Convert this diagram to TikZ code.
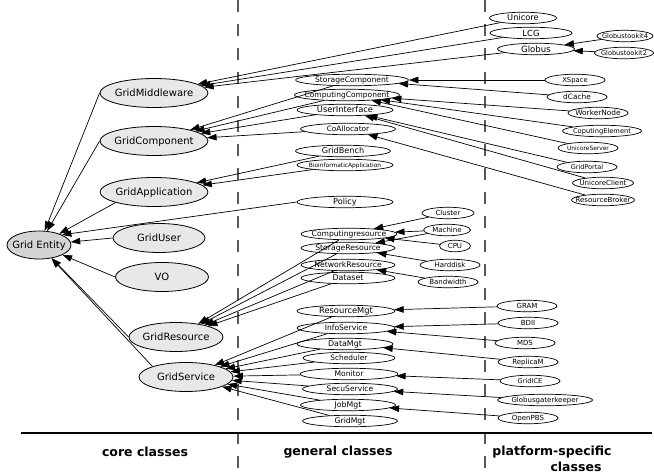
\documentclass[tikz,border=0pt]{standalone}
\usepackage{fontspec}
\setmainfont{DejaVu Sans}
\usetikzlibrary{shapes.geometric,arrows.meta}
\definecolor{corefill}{HTML}{E8E8E8}
\definecolor{rootfill}{HTML}{D4D4D4}
\newcommand\zt[1]{\raisebox{-0.36em}[0pt][0pt]{\makebox[0pt]{#1}}}
\tikzset{
  core/.style={ellipse, draw, fill=corefill, line width=0.8pt, inner sep=0pt,
    font=\fontsize{10}{12}\selectfont, minimum width=#1, minimum height=29pt},
  core/.default=108pt,
  mid/.style={ellipse, draw, fill=white, line width=0.7pt, inner sep=0pt,
    font=\fontsize{7.7}{9}\selectfont, minimum width=#1, minimum height=11.5pt},
  mid/.default=96pt,
  plat/.style={ellipse, draw, fill=white, line width=0.7pt, inner sep=0pt,
    font=\fontsize{7}{8}\selectfont, minimum width=#1, minimum height=11.5pt},
  plat/.default=60pt,
  fs/.style={font=\fontsize{#1}{#1}\selectfont},
  arr/.style={-{Triangle[length=9.5pt,width=6.5pt]}, line width=0.7pt},
  sep/.style={line width=1.2pt, gray!70!black, dash pattern=on 12pt off 12pt},
  lbl/.style={font=\fontsize{12.5}{14}\selectfont\bfseries, inner sep=0pt},
}
\begin{document}
\begin{tikzpicture}[x=1pt,y=-1pt]
\useasboundingbox (0,0) rectangle (654,476);
% separators
\coordinate (s1t) at (238,0); \coordinate (s1b) at (238,476);
\coordinate (s2t) at (485,0); \coordinate (s2b) at (485,476);
\coordinate (hl) at (21,433); \coordinate (hr) at (652,433);
\draw[sep] (s1t) -- (s1b);
\draw[sep] (s2t) -- (s2b);
\draw[line width=1.3pt] (hl) -- (hr);
% core
\node[core=64pt, fill=rootfill, minimum height=28pt] (ge) at (39,245) {\zt{Grid Entity}};
\node[core] (gm) at (154,93) {\zt{GridMiddleware}};
\node[core] (gc) at (154,141) {\zt{GridComponent}};
\node[core] (ga) at (154,192) {\zt{GridApplication}};
\node[core=92pt] (gu) at (159,238) {\zt{GridUser}};
\node[core=93pt] (vo) at (162,277) {\zt{VO}};
\node[core=94pt] (gr) at (176,337) {\zt{GridResource}};
\node[core=94pt] (gs) at (186,377) {\zt{GridService}};
% general
\node[mid=67pt, fs=8.3] (unicore) at (523,18) {\zt{Unicore}};
\node[mid=82pt, fs=8.4] (lcg) at (531,33) {\zt{LCG}};
\node[mid=77pt, fs=8.6] (globus) at (536,49) {\zt{Globus}};
\node[mid=113pt, fs=7.6] (sc) at (352,80) {\zt{StorageComponent}};
\node[mid=105pt, fs=7.5] (cc) at (347,95) {\zt{ComputingComponent}};
\node[mid, fs=8.3] (ui) at (345,110) {\zt{UserInterface}};
\node[mid=95pt, fs=7.4] (coa) at (348,129) {\zt{CoAllocator}};
\node[mid=95pt, fs=8.1] (gb) at (343,151) {\zt{GridBench}};
\node[mid, fs=5.9] (bio) at (345,165) {\zt{BioinformaticApplication}};
\node[mid, fs=8.2] (policy) at (345,202) {\zt{Policy}};
\node[mid, fs=7.6] (cr) at (349,234) {\zt{Computingresource}};
\node[mid=94pt] (sr) at (348,248) {\zt{StorageResource}};
\node[mid=94pt] (nr) at (348,265) {\zt{NetworkResource}};
\node[mid=94pt, fs=7.9] (ds) at (348,278) {\zt{Dataset}};
\node[mid=98pt, fs=8.3] (rm) at (346,311) {\zt{ResourceMgt}};
\node[mid=98pt, fs=7.6] (is) at (346,328) {\zt{InfoService}};
\node[mid, fs=7.9] (dm) at (345,344) {\zt{DataMgt}};
\node[mid=92pt, fs=7.4] (sch) at (349,358) {\zt{Scheduler}};
\node[mid=98pt, fs=7.6] (mon) at (349,374) {\zt{Monitor}};
\node[mid=95pt, fs=7.6] (ss) at (350,389) {\zt{SecuService}};
\node[mid=95pt, fs=7.8] (jm) at (348,405) {\zt{JobMgt}};
\node[mid=95pt] (gmg) at (350,421) {\zt{GridMgt}};
% platform-specific
\node[plat=56pt, fs=6.6] (gt4) at (625,36) {\zt{Globustookit4}};
\node[plat=59pt, fs=6.6] (gt2) at (624,53) {\zt{Globustookit2}};
\node[plat, fs=6.8] (xspace) at (575,80) {\zt{XSpace}};
\node[plat, fs=7.4] (dcache) at (577,97) {\zt{dCache}};
\node[plat, fs=7.4] (wn) at (598,113) {\zt{WorkerNode}};
\node[plat=79pt, fs=6.7] (ce) at (602,131) {\zt{CoputingElement}};
\node[plat, fs=5.9] (us) at (588,148) {\zt{UnicoreServer}};
\node[plat, fs=6.5] (gp) at (587,167) {\zt{GridPortal}};
\node[plat=61pt] (uc) at (603,183) {\zt{UnicoreClient}};
\node[plat=63pt] (rb) at (603,200) {\zt{ResourceBroker}};
\node[plat=52pt] (cluster) at (448,213) {\zt{Cluster}};
\node[plat=47pt] (machine) at (447,230) {\zt{Machine}};
\node[plat=31pt] (cpu) at (455,246) {\zt{CPU}};
\node[plat] (hd) at (450,265) {\zt{Harddisk}};
\node[plat] (bw) at (448,282) {\zt{Bandwidth}};
\node[plat] (gram) at (527,306) {\zt{GRAM}};
\node[plat] (bdii) at (528,323) {\zt{BDII}};
\node[plat] (mds) at (525,343) {\zt{MDS}};
\node[plat] (replica) at (528,362) {\zt{ReplicaM}};
\node[plat, fs=6.6] (gridice) at (530,381) {\zt{GridICE}};
\node[plat=95pt] (ggk) at (545,400) {\zt{Globusgaterkeeper}};
\node[plat] (openpbs) at (528,418) {\zt{OpenPBS}};
% labels
\node[lbl] (l1) at (145,452) {core classes};
\node[lbl] (l2) at (338,452) {general classes};
\node[lbl] (l3) at (552,452) {platform-specific};
\node[lbl] (l4) at (576,467) {classes};
% edges to Grid Entity
\draw[arr] (gm.west) -- (ge);
\draw[arr] (gc.west) -- (ge);
\draw[arr] (ga.south west) -- (ge);
\draw[arr] (gu.west) -- (ge);
\draw[arr] (vo.west) -- (ge);
\draw[arr] (gr.west) -- (ge);
\draw[arr] (gs.north west) -- (ge);
\draw[arr] (policy.west) -- (ge.north east);
% middleware
\draw[arr] (unicore) -- (gm);
\draw[arr] (lcg) -- (gm);
\draw[arr] (globus) -- (gm);
\draw[arr] (gt4) -- (globus);
\draw[arr] (gt2) -- (globus);
% component
\draw[arr] (sc) -- (gc);
\draw[arr] (cc) -- (gc);
\draw[arr] (ui) -- (gc);
\draw[arr] (coa) -- (gc);
\draw[arr] (xspace) -- (sc);
\draw[arr] (dcache) -- (sc);
\draw[arr] (wn) -- (cc);
\draw[arr] (ce) -- (cc);
\draw[arr] (us) -- (cc);
\draw[arr] (gp) -- (ui);
\draw[arr] (uc) -- (ui);
\draw[arr] (rb) -- (coa);
% application
\draw[arr] (gb) -- (ga);
\draw[arr] (bio) -- (ga);
% resource
\draw[arr] (cr) -- (gr);
\draw[arr] (sr) -- (gr);
\draw[arr] (nr) -- (gr);
\draw[arr] (ds) -- (gr);
\draw[arr] (cluster) -- (cr);
\draw[arr] (machine) -- (cr);
\draw[arr] (cpu) -- (cr);
\draw[arr] (machine) -- (sr);
\draw[arr] (hd) -- (sr);
\draw[arr] (bw) -- (nr);
% service
\draw[arr] (rm) -- (gs);
\draw[arr] (is) -- (gs);
\draw[arr] (dm) -- (gs);
\draw[arr] (sch) -- (gs);
\draw[arr] (mon) -- (gs);
\draw[arr] (ss) -- (gs);
\draw[arr] (jm) -- (gs);
\draw[arr] (gmg) -- (gs);
\draw[arr] (gram) -- (rm);
\draw[arr] (bdii) -- (is);
\draw[arr] (mds) -- (is);
\draw[arr] (replica) -- (dm);
\draw[arr] (gridice) -- (mon);
\draw[arr] (ggk) -- (ss);
\draw[arr] (openpbs) -- (jm);
\end{tikzpicture}
\end{document}
